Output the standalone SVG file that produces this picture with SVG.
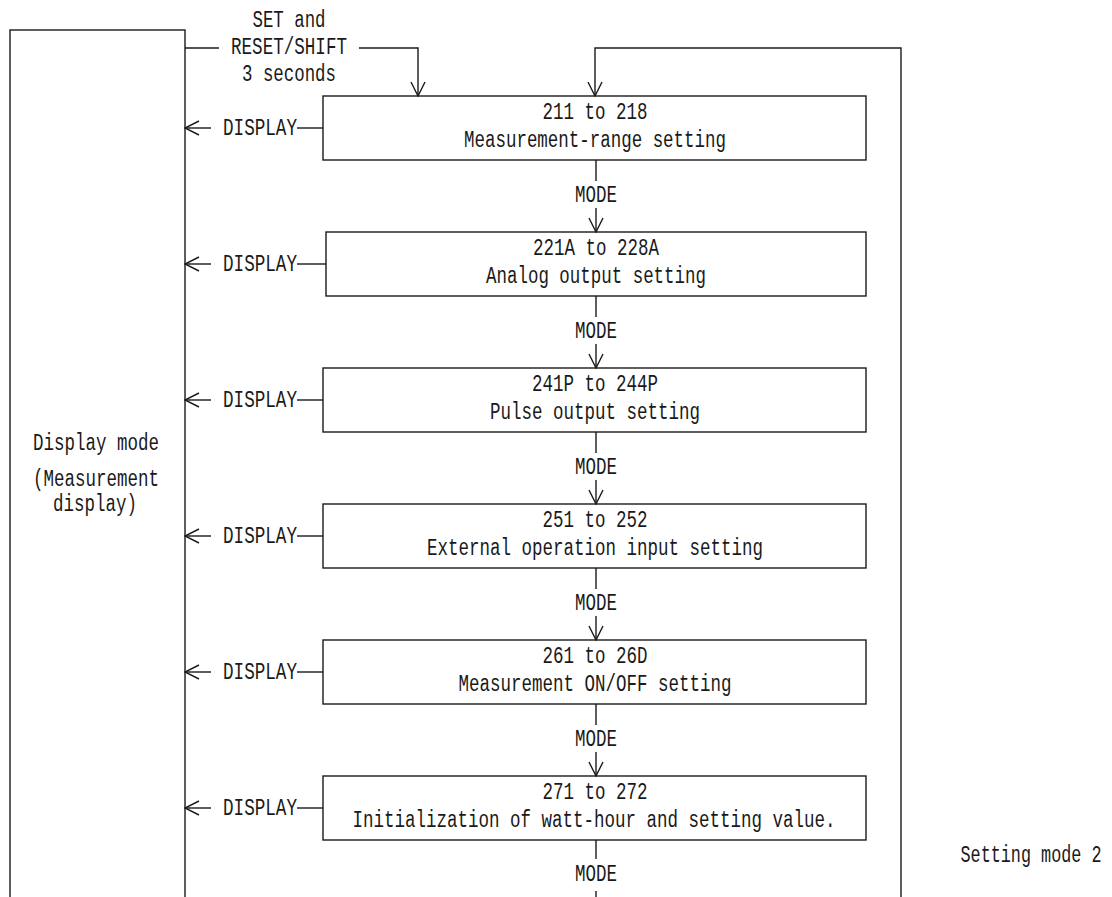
<svg xmlns="http://www.w3.org/2000/svg" width="1112" height="897" viewBox="0 0 1112 897">
<style>
text{font-family:"Liberation Mono","DejaVu Sans Mono",monospace;font-size:23px;fill:#1a1a1a;text-anchor:middle}
.box{fill:#fff;stroke:#1a1a1a;stroke-width:1.4}
.ln{fill:none;stroke:#1a1a1a;stroke-width:1.4}
.ar{marker-end:url(#arr)}
</style>
<defs>
<marker id="arr" viewBox="0 0 16 16" refX="15" refY="8" markerWidth="16" markerHeight="16" markerUnits="userSpaceOnUse" orient="auto">
<path d="M1,1 L15,8 L1,15" fill="none" stroke="#1a1a1a" stroke-width="1.4"/>
</marker>
</defs>
<rect width="1112" height="897" fill="#fff"/>

<g id="display-mode">
<rect class="box" x="10" y="30" width="175" height="900"/>
<text x="96" y="450" textLength="126" lengthAdjust="spacingAndGlyphs">Display mode</text>
<text x="96" y="486" textLength="126" lengthAdjust="spacingAndGlyphs">(Measurement</text>
<text x="95" y="511" textLength="84" lengthAdjust="spacingAndGlyphs">display)</text>
</g>

<g id="n211">
<rect class="box" x="323" y="96" width="543" height="64"/>
<text x="595" y="119" textLength="105" lengthAdjust="spacingAndGlyphs">211 to 218</text>
<text x="595" y="147" textLength="262" lengthAdjust="spacingAndGlyphs">Measurement-range setting</text>
</g>
<g id="n221">
<rect class="box" x="326" y="232" width="540" height="64"/>
<text x="596" y="255" textLength="126" lengthAdjust="spacingAndGlyphs">221A to 228A</text>
<text x="596" y="283" textLength="220" lengthAdjust="spacingAndGlyphs">Analog output setting</text>
</g>
<g id="n241">
<rect class="box" x="323" y="368" width="543" height="64"/>
<text x="595" y="391" textLength="126" lengthAdjust="spacingAndGlyphs">241P to 244P</text>
<text x="595" y="419" textLength="210" lengthAdjust="spacingAndGlyphs">Pulse output setting</text>
</g>
<g id="n251">
<rect class="box" x="323" y="504" width="543" height="64"/>
<text x="595" y="527" textLength="105" lengthAdjust="spacingAndGlyphs">251 to 252</text>
<text x="595" y="555" textLength="336" lengthAdjust="spacingAndGlyphs">External operation input setting</text>
</g>
<g id="n261">
<rect class="box" x="323" y="640" width="543" height="64"/>
<text x="595" y="663" textLength="105" lengthAdjust="spacingAndGlyphs">261 to 26D</text>
<text x="595" y="691" textLength="273" lengthAdjust="spacingAndGlyphs">Measurement ON/OFF setting</text>
</g>
<g id="n271">
<rect class="box" x="323" y="776" width="543" height="64"/>
<text x="595" y="799" textLength="105" lengthAdjust="spacingAndGlyphs">271 to 272</text>
<text x="594" y="827" textLength="483" lengthAdjust="spacingAndGlyphs">Initialization of watt-hour and setting value.</text>
</g>

<g id="connectors">
<path class="ln" d="M185,48 H219"/>
<path class="ln ar" d="M359,48 H418 V96"/>
<text x="289" y="26.5" textLength="73" lengthAdjust="spacingAndGlyphs">SET and</text>
<text x="289" y="54" textLength="116" lengthAdjust="spacingAndGlyphs">RESET/SHIFT</text>
<text x="289" y="81" textLength="94" lengthAdjust="spacingAndGlyphs">3 seconds</text>
<path class="ln ar" d="M901,897 V48 H595 V96"/>

<path class="ln" d="M297,128 H323"/><path class="ln ar" d="M211,128 H185"/>
<text x="260" y="135" textLength="74" lengthAdjust="spacingAndGlyphs">DISPLAY</text>
<path class="ln" d="M297,264 H326"/><path class="ln ar" d="M211,264 H185"/>
<text x="260" y="271" textLength="74" lengthAdjust="spacingAndGlyphs">DISPLAY</text>
<path class="ln" d="M297,400 H323"/><path class="ln ar" d="M211,400 H185"/>
<text x="260" y="407" textLength="74" lengthAdjust="spacingAndGlyphs">DISPLAY</text>
<path class="ln" d="M297,536 H323"/><path class="ln ar" d="M211,536 H185"/>
<text x="260" y="543" textLength="74" lengthAdjust="spacingAndGlyphs">DISPLAY</text>
<path class="ln" d="M297,672 H323"/><path class="ln ar" d="M211,672 H185"/>
<text x="260" y="679" textLength="74" lengthAdjust="spacingAndGlyphs">DISPLAY</text>
<path class="ln" d="M297,808 H323"/><path class="ln ar" d="M211,808 H185"/>
<text x="260" y="815" textLength="74" lengthAdjust="spacingAndGlyphs">DISPLAY</text>

<path class="ln" d="M596,160 V181"/><path class="ln ar" d="M596,208 V232"/>
<text x="596" y="201.5" textLength="42" lengthAdjust="spacingAndGlyphs">MODE</text>
<path class="ln" d="M596,296 V317"/><path class="ln ar" d="M596,344 V368"/>
<text x="596" y="337.5" textLength="42" lengthAdjust="spacingAndGlyphs">MODE</text>
<path class="ln" d="M596,432 V453"/><path class="ln ar" d="M596,480 V504"/>
<text x="596" y="473.5" textLength="42" lengthAdjust="spacingAndGlyphs">MODE</text>
<path class="ln" d="M596,568 V589"/><path class="ln ar" d="M596,616 V640"/>
<text x="596" y="609.5" textLength="42" lengthAdjust="spacingAndGlyphs">MODE</text>
<path class="ln" d="M596,704 V725"/><path class="ln ar" d="M596,752 V776"/>
<text x="596" y="745.5" textLength="42" lengthAdjust="spacingAndGlyphs">MODE</text>
<path class="ln" d="M596,840 V859"/><path class="ln" d="M596,891 V897"/>
<text x="596" y="880.5" textLength="42" lengthAdjust="spacingAndGlyphs">MODE</text>
</g>

<text transform="translate(1031,862) scale(0.73,1)" x="0" y="0">Setting mode 2</text>
</svg>
